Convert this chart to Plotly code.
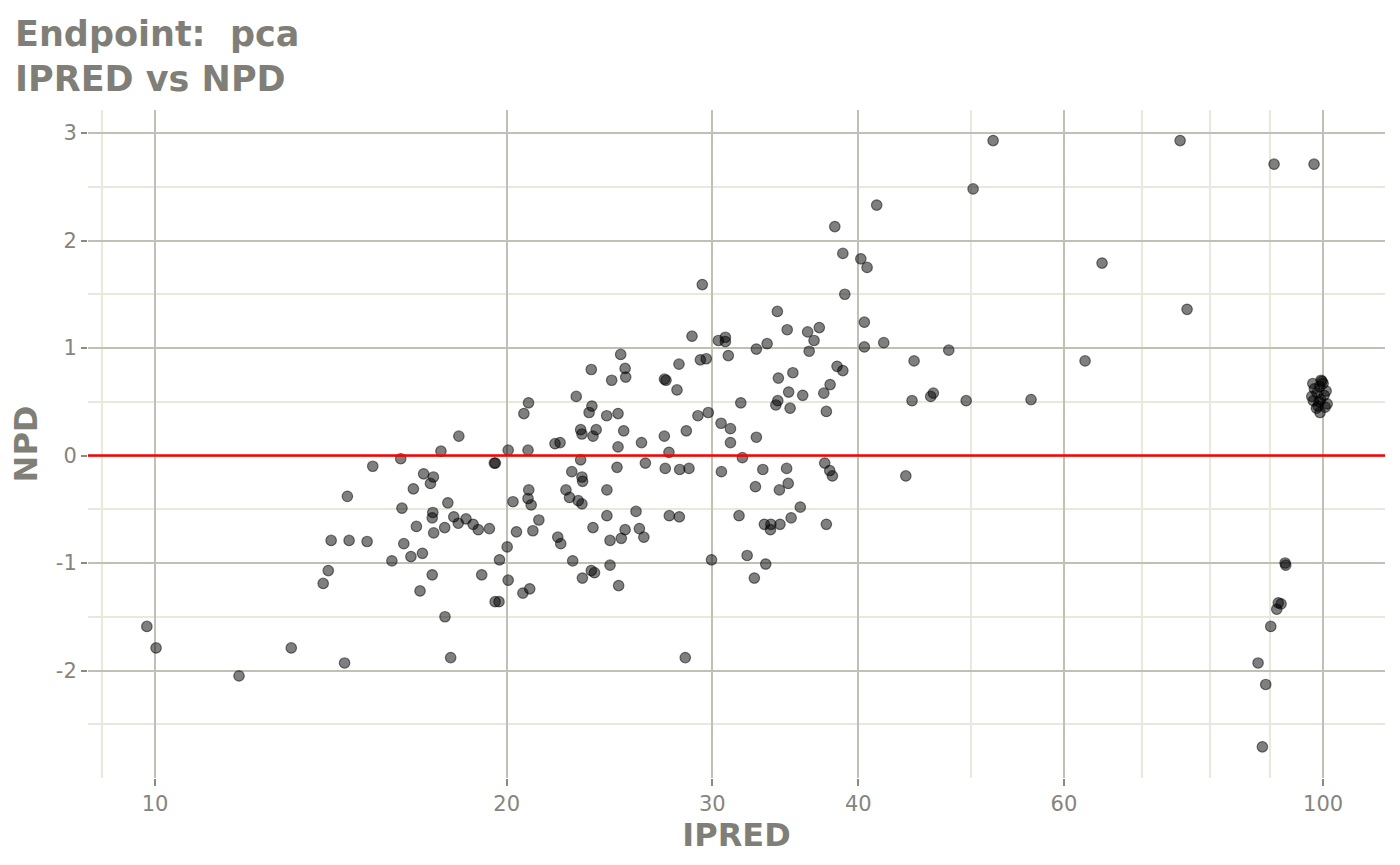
import plotly.graph_objects as go

# IPRED (individual prediction) and NPD values
ipred = [
    9.84, 10.02, 11.80, 13.08,
    24.60, 22.94, 20.88, 23.66, 23.53, 20.69, 24.36, 24.91, 18.20, 23.14,
    23.86, 23.20, 23.71, 22.00, 22.22, 24.91, 17.57, 20.06, 20.86, 16.23,
    19.52, 19.56, 23.14, 15.36, 24.86, 22.74, 16.98, 17.31, 23.20, 17.21,
    23.23, 16.64, 20.89, 22.48, 24.37, 14.61, 20.86, 22.64, 23.03, 23.20,
    20.25, 17.81, 20.99, 16.27, 17.29, 17.27, 18.02, 18.46, 18.18, 24.37,
    21.31, 18.72, 18.91, 19.33, 16.74, 17.70, 17.32, 21.06, 20.39, 23.71,
    14.15, 14.66, 15.19, 16.33, 22.12, 22.25, 24.52, 20.02, 16.94, 16.56,
    15.95, 19.72, 22.78, 24.52, 14.07, 13.93, 17.27, 19.04, 23.63, 23.78,
    23.22, 24.94, 20.06, 16.86, 20.65, 20.93, 19.55, 19.70, 17.71, 17.91,
    14.53, 23.63,
    29.41, 38.95, 34.10, 34.77, 36.20, 37.04, 36.66, 36.31, 28.82, 30.36,
    30.78, 30.78, 30.96, 32.72, 33.42, 25.04, 28.09, 29.30, 29.64, 25.26,
    25.29, 27.30, 27.38, 27.98, 34.17, 35.16, 34.87, 35.85, 37.37, 37.84,
    38.36, 38.80, 31.73, 34.13, 34.00, 34.97, 37.56, 25.19, 26.09, 27.29,
    28.50, 29.16, 29.76, 30.52, 31.09, 31.09, 32.72, 27.54, 26.29, 27.34,
    28.13, 28.65, 30.54, 31.83, 33.14, 34.73, 37.44, 37.81, 38.01, 32.66,
    34.84, 34.24, 25.81, 27.56, 28.11, 31.62, 35.68, 35.04, 34.28, 33.24,
    33.67, 33.64, 37.56, 25.26, 25.98, 26.21, 25.07, 29.95, 32.13, 33.33,
    32.59, 28.44,
    41.48, 38.19, 38.80, 40.20, 40.70, 40.48, 40.48, 42.06, 47.81, 44.65,
    44.47, 46.14, 46.38, 43.93,
    52.18, 50.16, 75.44, 90.79, 98.23, 64.68, 76.48, 62.55, 56.23, 49.48,
    92.78, 92.90, 91.55, 92.05, 91.27, 90.20, 87.97, 89.31, 88.72,
    98.0, 98.3, 97.8, 98.1, 98.8, 99.6, 99.3, 99.0, 99.5, 100.0,
    99.4, 100.2, 100.6, 100.8, 98.7, 99.8, 99.2, 100.4,
]
npd = [
    -1.59, -1.79, -2.05, -1.79,
    0.70, 0.55, 0.49, 0.46, 0.40, 0.39, 0.37, 0.39, 0.18, 0.24,
    0.24, 0.20, 0.18, 0.11, 0.12, 0.08, 0.04, 0.05, 0.05, -0.03,
    -0.07, -0.07, -0.04, -0.10, -0.11, -0.15, -0.17, -0.20, -0.20, -0.26,
    -0.24, -0.31, -0.32, -0.32, -0.32, -0.38, -0.40, -0.39, -0.42, -0.45,
    -0.43, -0.44, -0.46, -0.49, -0.53, -0.58, -0.57, -0.59, -0.63, -0.56,
    -0.60, -0.64, -0.69, -0.68, -0.66, -0.67, -0.72, -0.70, -0.71, -0.67,
    -0.79, -0.79, -0.80, -0.82, -0.76, -0.82, -0.79, -0.85, -0.91, -0.94,
    -0.98, -0.97, -0.98, -1.02, -1.07, -1.19, -1.11, -1.11, -1.07, -1.09,
    -1.14, -1.21, -1.16, -1.26, -1.28, -1.24, -1.36, -1.36, -1.50, -1.88,
    -1.93, 0.80,
    1.59, 1.50, 1.34, 1.17, 1.15, 1.19, 1.07, 0.97, 1.11, 1.07,
    1.10, 1.06, 0.93, 0.99, 1.04, 0.94, 0.85, 0.89, 0.90, 0.81,
    0.73, 0.71, 0.70, 0.61, 0.72, 0.77, 0.59, 0.56, 0.58, 0.66,
    0.83, 0.79, 0.49, 0.51, 0.47, 0.44, 0.41, 0.23, 0.12, 0.18,
    0.23, 0.37, 0.40, 0.30, 0.25, 0.12, 0.17, 0.03, -0.07, -0.12,
    -0.13, -0.12, -0.15, -0.02, -0.13, -0.12, -0.07, -0.14, -0.19, -0.29,
    -0.26, -0.32, -0.52, -0.56, -0.57, -0.56, -0.48, -0.58, -0.64, -0.64,
    -0.64, -0.69, -0.64, -0.69, -0.68, -0.76, -0.77, -0.97, -0.93, -1.01,
    -1.14, -1.88,
    2.33, 2.13, 1.88, 1.83, 1.75, 1.24, 1.01, 1.05, 0.98, 0.88,
    0.51, 0.55, 0.58, -0.19,
    2.93, 2.48, 2.93, 2.71, 2.71, 1.79, 1.36, 0.88, 0.52, 0.51,
    -1.00, -1.02, -1.37, -1.38, -1.43, -1.59, -1.93, -2.13, -2.71,
    0.67, 0.62, 0.55, 0.51, 0.58, 0.70, 0.64, 0.46, 0.52, 0.67,
    0.40, 0.56, 0.60, 0.48, 0.44, 0.69, 0.50, 0.45,
]

x_ticks = [10, 20, 30, 40, 60, 100]
x_minor = [9, 50, 70, 80, 90]
y_ticks = [-2, -1, 0, 1, 2, 3]
y_minor = [-2.5, -1.5, -0.5, 0.5, 1.5, 2.5]

text_col = "#7f7f77"
tick_col = "#85857d"
major_col = "#c0c0b4"
minor_col = "#e8e8dc"

fig = go.Figure()
fig.add_trace(go.Scatter(
    x=ipred, y=npd, mode="markers",
    marker=dict(size=10.5, color="rgba(0,0,0,0.5)",
                line=dict(color="rgba(0,0,0,0.5)", width=1.2)),
    showlegend=False,
))

# reference line at NPD = 0
fig.add_shape(type="line", xref="paper", x0=0, x1=1, yref="y", y0=0, y1=0,
              line=dict(color="red", width=2.5))

fig.update_layout(
    width=1400, height=865,
    margin=dict(l=88, r=15, t=110, b=87),
    paper_bgcolor="white", plot_bgcolor="white",
    font=dict(family="DejaVu Sans", color=tick_col),
    title=dict(text="Endpoint:\u00a0 pca<br>IPRED vs NPD",
               font=dict(size=35, color=text_col, family="DejaVu Sans", weight="bold"),
               x=15 / 1400, xanchor="left", xref="container",
               y=0.947, yanchor="top", yref="container"),
)
fig.update_xaxes(
    type="log", range=[0.9426, 2.053],
    tickvals=x_ticks, ticktext=[str(v) for v in x_ticks],
    tickfont=dict(size=21, color=tick_col),
    ticks="outside", ticklen=7, tickwidth=2, tickcolor="#8a8a82",
    showgrid=True, gridcolor=major_col, gridwidth=2,
    minor=dict(tickvals=x_minor, showgrid=True, gridcolor=minor_col,
               gridwidth=2, ticks=""),
    zeroline=False, showline=False,
    title=dict(text="<b>IPRED</b>", font=dict(size=32, color=text_col), standoff=8),
)
fig.update_yaxes(
    range=[-3.0, 3.214],
    tickvals=y_ticks, ticktext=[str(v) for v in y_ticks],
    tickfont=dict(size=21, color=tick_col),
    ticks="outside", ticklen=6, tickwidth=2, tickcolor="#8a8a82",
    showgrid=True, gridcolor=major_col, gridwidth=2,
    minor=dict(tickvals=y_minor, showgrid=True, gridcolor=minor_col,
               gridwidth=2, ticks=""),
    zeroline=False, showline=False,
    title=dict(text="<b>NPD</b>", font=dict(size=32, color=text_col), standoff=8),
)

fig.write_html("out.html", config={"displayModeBar": False},
               post_script="document.body.style.margin = '0';")
